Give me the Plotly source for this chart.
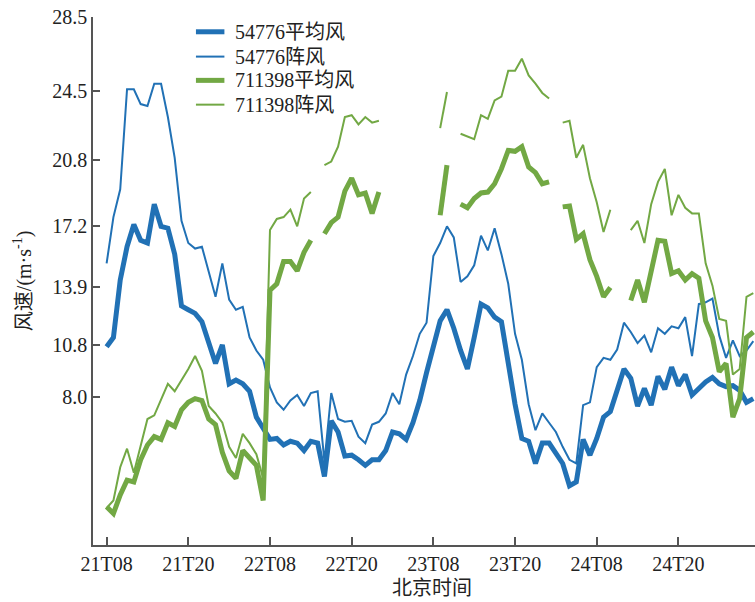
import plotly.graph_objects as go

# Hourly observations starting at 21T08 (hour index 0)
hours = list(range(96))

# Station 54776: hourly mean wind and gust (m/s)
mean_54776 = [
    10.7, 11.2, 14.3, 16.1, 17.3, 16.45, 16.3, 18.4, 17.2, 17.1,
    15.7, 12.9, 12.7, 12.5, 12.05, 10.9, 9.8, 10.8, 8.7, 8.9,
    8.7, 8.3, 6.9, 6.3, 5.7, 5.75, 5.4, 5.6, 5.5, 5.1,
    5.6, 5.5, 3.7, 6.7, 6.1, 4.8, 4.85, 4.6, 4.3, 4.6,
    4.6, 5.1, 6.1, 6.0, 5.7, 6.6, 7.8, 9.3, 10.8, 12.1,
    12.7, 11.7, 10.5, 9.5, 11.2, 13.0, 12.8, 12.3, 12.05, 9.6,
    7.6, 5.75, 5.6, 4.4, 5.5, 5.5, 5.0, 4.4, 3.2, 3.4,
    5.7, 4.85, 5.75, 6.9, 7.2, 8.45, 9.5, 9.0, 7.5, 8.45,
    7.55, 9.1, 8.4, 9.6, 8.6, 9.2, 8.1, 8.45, 8.8, 9.05,
    8.7, 8.55, 8.6, 8.35, 7.7, 7.9,
]
gust_54776 = [
    15.2, 17.7, 19.2, 24.6, 24.6, 23.8, 23.7, 24.9, 24.9, 23.1,
    20.9, 17.5, 16.3, 16.0, 16.1, 14.7, 13.4, 15.2, 13.25, 12.7,
    12.85, 11.2, 10.5, 10.0, 8.5, 7.7, 7.3, 7.8, 8.1, 7.5,
    8.2, 8.3, 4.5, 8.2, 6.8, 6.65, 6.7, 5.85, 5.5, 6.5,
    6.65, 7.1, 8.2, 7.6, 9.2, 10.2, 11.4, 12.0, 15.6, 16.3,
    17.2, 16.6, 14.2, 14.5, 15.1, 16.7, 15.9, 17.1, 15.7, 14.1,
    11.4, 10.0, 7.6, 6.2, 7.1, 6.6, 6.1, 5.3, 4.6, 4.4,
    7.55, 7.7, 9.6, 10.1, 10.0, 10.55, 12.0, 11.5, 10.9, 11.3,
    10.4, 11.7, 11.4, 11.8, 11.7, 12.3, 10.2, 13.0, 13.1, 13.3,
    11.3, 10.1, 11.05, 10.2, 10.5, 11.0,
]

# Station 711398: hourly mean wind and gust (m/s); None = missing record
mean_711398 = [
    2.07, 1.7, 2.7, 3.5, 3.4, 4.6, 5.4, 5.85, 5.7, 6.6,
    6.4, 7.3, 7.7, 7.9, 7.8, 6.8, 6.5, 5.0, 4.0, 3.6,
    5.1, 4.7, 4.3, 2.4, 13.75, 14.1, 15.3, 15.3, 14.8, 15.8,
    16.45, None, 16.8, 17.4, 17.7, 19.1, 19.8, 18.9, 19.0, 17.9,
    19.05, None, None, None, None, None, None, None, None, 17.8,
    20.5, None, 18.4, 18.2, 18.7, 19.0, 19.05, 19.5, 20.3, 21.3,
    21.25, 21.5, 20.4, 20.1, 19.5, 19.6, None, 18.25, 18.3, 16.5,
    16.8, 15.4, 14.5, 13.4, 13.9, None, None, 13.2, 14.3, 13.1,
    14.7, 16.45, 16.4, 14.65, 14.8, 14.3, 14.65, 14.4, 12.1, 11.2,
    9.35, 9.8, 6.9, 7.9, 11.2, 11.5,
]
gust_711398 = [
    2.0, 2.4, 4.2, 5.2, 3.9, 5.3, 6.8, 7.0, 7.9, 8.7,
    8.3, 8.9, 9.5, 10.2, 9.4, 7.5, 7.1, 6.6, 5.3, 4.7,
    6.0, 5.5, 4.9, 3.6, 17.0, 17.6, 17.7, 18.1, 17.2, 18.7,
    19.05, None, 20.5, 20.7, 21.5, 23.1, 23.2, 22.7, 23.1, 22.8,
    22.9, None, None, None, None, None, None, None, None, 22.5,
    24.45, None, 22.2, 22.05, 21.9, 23.2, 23.0, 24.0, 24.2, 25.6,
    25.6, 26.25, 25.35, 24.9, 24.4, 24.1, None, 22.8, 22.9, 20.9,
    21.6, 19.8, 18.5, 16.9, 18.1, None, None, 17.0, 17.5, 16.3,
    18.4, 19.6, 20.3, 17.8, 18.9, 18.2, 17.9, 17.9, 15.2, 14.0,
    12.2, 12.1, 9.2, 9.5, 13.4, 13.6,
]

tick_hours = [0, 12, 24, 36, 48, 60, 72, 84]
tick_labels = ["21T08", "21T20", "22T08", "22T20", "23T08", "23T20", "24T08", "24T20"]
y_ticks = [8.0, 10.8, 13.9, 17.2, 20.8, 24.5, 28.5]

BLUE = "#2171b5"
GREEN = "#72a844"
FONT = "Liberation Serif, 'Noto Sans CJK SC', serif"
TEXT_COLOR = "#222222"

series = [
    ("54776平均风", mean_54776, BLUE, 5),
    ("54776阵风", gust_54776, BLUE, 2),
    ("711398平均风", mean_711398, GREEN, 5),
    ("711398阵风", gust_711398, GREEN, 2),
]

fig = go.Figure()
for name, vals, color, width in series:
    fig.add_trace(go.Scatter(
        x=hours, y=vals, name=name, mode="lines",
        line=dict(color=color, width=width),
        connectgaps=False, showlegend=False,
    ))

axis_common = dict(
    showgrid=False, zeroline=False, showline=True,
    linecolor="#555555", linewidth=1.5,
    ticks="inside", tickcolor="#555555", tickwidth=1.5,
    tickfont=dict(family=FONT, size=20, color=TEXT_COLOR),
)

fig.update_xaxes(
    range=[-2.0, 95.25], tickmode="array",
    tickvals=tick_hours, ticktext=tick_labels, ticklen=8,
    **axis_common,
)
fig.update_yaxes(
    range=[0, 28.5], tickmode="array",
    tickvals=y_ticks, ticktext=[f"{v:.1f}" for v in y_ticks], ticklen=7,
    **axis_common,
)

# Compact key in the upper-left corner of the plot area (paper coordinates)
key_x0, key_x1, key_text_x = 0.1555, 0.1985, 0.211
key_rows = [0.972, 0.925, 0.880, 0.834]
for (name, _, color, width), ky in zip(series, key_rows):
    fig.add_shape(
        type="line", xref="paper", yref="paper",
        x0=key_x0, x1=key_x1, y0=ky, y1=ky,
        line=dict(color=color, width=width),
    )
    fig.add_annotation(
        text=name, xref="paper", yref="paper",
        x=key_text_x, y=ky, xanchor="left", yanchor="middle",
        showarrow=False, font=dict(family=FONT, size=20, color=TEXT_COLOR),
    )

fig.add_annotation(
    text="北京时间", xref="paper", yref="paper",
    x=0.512, y=-0.082, xanchor="center", yanchor="middle",
    showarrow=False, font=dict(family=FONT, size=20, color=TEXT_COLOR),
)
fig.add_annotation(
    text="风速/(m·s<sup>-1</sup>)", xref="paper", yref="paper",
    x=-0.107, y=0.5, xanchor="center", yanchor="middle", textangle=-90,
    showarrow=False, font=dict(family=FONT, size=20, color=TEXT_COLOR),
)

fig.update_layout(
    width=755, height=602,
    margin=dict(l=93, r=0, t=17, b=57),
    paper_bgcolor="white", plot_bgcolor="white",
    showlegend=False,
)

fig.write_html("out.html")
